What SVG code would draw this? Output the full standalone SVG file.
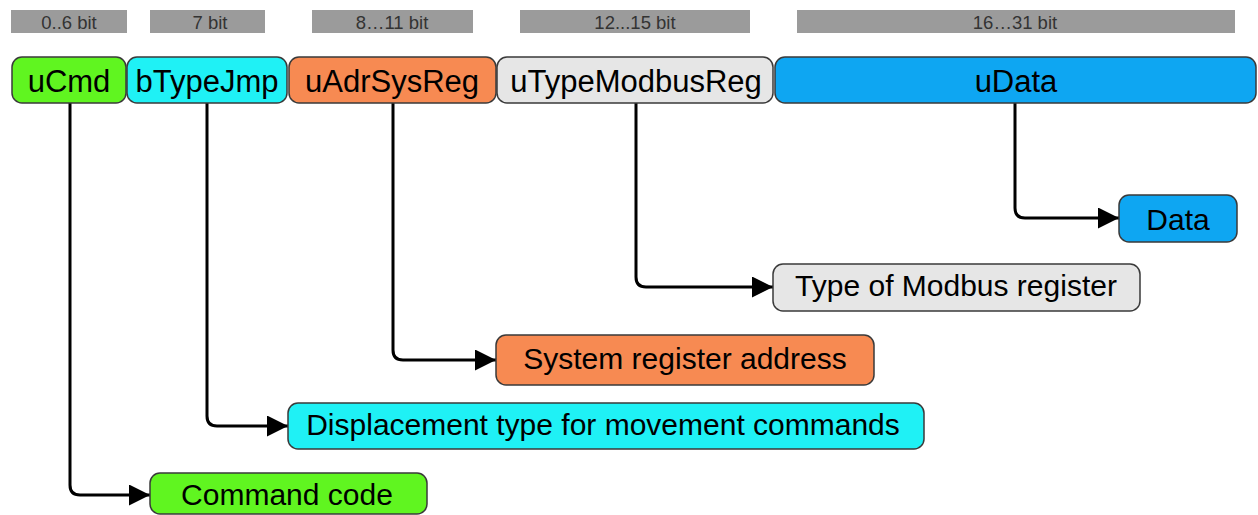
<svg xmlns="http://www.w3.org/2000/svg" width="1258" height="515" viewBox="0 0 1258 515">
<style>
.bar{fill:#9b9b9b}
.bt{font-family:"Liberation Sans",Arial,sans-serif;font-size:18.5px;fill:#333;text-anchor:middle}
.box{stroke:#3a3a3a;stroke-width:1.5}
.t{font-family:"Liberation Sans",Arial,sans-serif;fill:#000;text-anchor:middle}
.top{font-size:31px}
.low{font-size:30px}
.g{fill:#60f520}.c{fill:#1ff1f5}.o{fill:#f78a52}.l{fill:#e6e6e6}.b{fill:#0ea6f2}
.con{fill:none;stroke:#000;stroke-width:3;marker-end:url(#ah)}
</style>
<defs>
<marker id="ah" markerUnits="userSpaceOnUse" markerWidth="21" markerHeight="21" refX="21" refY="10.5" orient="auto">
<path d="M0,0 L21,10.5 L0,21 z" fill="#000"/>
</marker>
</defs>
<rect width="1258" height="515" fill="#fff"/>
<g id="bits">
<rect class="bar" x="11" y="10" width="116" height="23"/><text class="bt" x="69" y="29">0..6 bit</text>
<rect class="bar" x="150" y="10" width="115" height="23"/><text class="bt" x="210" y="29">7 bit</text>
<rect class="bar" x="312" y="10" width="161" height="23"/><text class="bt" x="392" y="29">8…11 bit</text>
<rect class="bar" x="520" y="10" width="230" height="23"/><text class="bt" x="635" y="29">12...15 bit</text>
<rect class="bar" x="797" y="10" width="438" height="23"/><text class="bt" x="1015" y="29">16…31 bit</text>
</g>
<g id="connectors">
<path class="con" d="M70,103 V485 Q70,495 80,495 H150"/>
<path class="con" d="M207,103 V416 Q207,426 217,426 H288"/>
<path class="con" d="M393,103 V350 Q393,360 403,360 H496"/>
<path class="con" d="M636,103 V277 Q636,287 646,287 H773"/>
<path class="con" d="M1015,103 V208 Q1015,218 1025,218 H1119"/>
</g>
<g id="uCmd"><rect class="box g" x="12" y="57" width="114" height="46" rx="10"/><text class="t top" x="69" y="92">uCmd</text></g>
<g id="bTypeJmp"><rect class="box c" x="127" y="57" width="160" height="46" rx="10"/><text class="t top" x="207" y="92">bTypeJmp</text></g>
<g id="uAdrSysReg"><rect class="box o" x="289" y="57" width="207" height="46" rx="10"/><text class="t top" x="392" y="92">uAdrSysReg</text></g>
<g id="uTypeModbusReg"><rect class="box l" x="497" y="57" width="276" height="46" rx="10"/><text class="t top" x="636" y="92">uTypeModbusReg</text></g>
<g id="uData"><rect class="box b" x="775" y="57" width="481" height="46" rx="10"/><text class="t top" x="1016" y="92">uData</text></g>
<g id="data"><rect class="box b" x="1119" y="195" width="118" height="47" rx="10"/><text class="t low" x="1178" y="230">Data</text></g>
<g id="modbusType"><rect class="box l" x="773" y="264" width="367" height="47" rx="10"/><text class="t low" x="956" y="296">Type of Modbus register</text></g>
<g id="sysRegAddr"><rect class="box o" x="496" y="335" width="378" height="50" rx="10"/><text class="t low" x="685" y="369">System register address</text></g>
<g id="displacement"><rect class="box c" x="288" y="403" width="636" height="46" rx="10"/><text class="t low" x="603" y="435">Displacement type for movement commands</text></g>
<g id="commandCode"><rect class="box g" x="150" y="473" width="277" height="41" rx="10"/><text class="t low" x="287" y="505">Command code</text></g>
</svg>
